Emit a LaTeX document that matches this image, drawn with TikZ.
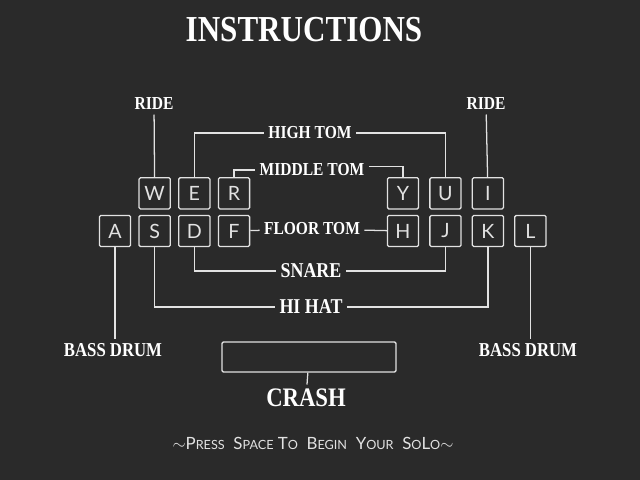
\documentclass[tikz,border=0pt]{standalone}
\usepackage{fontspec}
\setmainfont{Lato}
\newfontfamily\tuscan{Liberation Serif}[FakeStretch=0.85]
\usetikzlibrary{positioning}
\definecolor{board}{HTML}{2A2A2A}
\definecolor{chalk}{HTML}{E2E2E2}
\tikzset{
  key/.style={draw=chalk, line width=0.9pt, rounded corners=1pt, minimum size=0.78cm, inner sep=0pt, text=chalk, font=\fontsize{14}{14}\selectfont},
  lbl/.style={text=white, font=\tuscan\bfseries\fontsize{13}{13}\selectfont, inner sep=3pt},
  wire/.style={draw=chalk, line width=0.9pt},
}
\begin{document}
\begin{tikzpicture}[x=0.025cm, y=-0.025cm, node distance=0.13cm and 0.18cm]
\fill[board] (0,0) rectangle (640,480);
\useasboundingbox (0,0) rectangle (640,480);
% title
\node (title) [lbl, font=\tuscan\bfseries\fontsize{26}{26}\selectfont] at (304,30) {INSTRUCTIONS};
% left hand keys
\node (keyA) [key] at (115,231) {A};
\node (keyS) [key, right=of keyA] {S};
\node (keyD) [key, right=of keyS] {D};
\node (keyF) [key, right=of keyD] {F};
\node (keyW) [key, above=of keyS] {W};
\node (keyE) [key, above=of keyD] {E};
\node (keyR) [key, above=of keyF] {R};
% right hand keys
\node (keyH) [key] at (403,231) {H};
\node (keyJ) [key, right=0.25cm of keyH] {J};
\node (keyK) [key, right=0.25cm of keyJ] {K};
\node (keyL) [key, right=0.25cm of keyK] {L};
\node (keyY) [key, above=of keyH] {Y};
\node (keyU) [key, above=of keyJ] {U};
\node (keyI) [key, above=of keyK] {I};
% drum names
\node (rideL) [lbl] at (154,104) {RIDE};
\node (rideR) [lbl] at (486,104) {RIDE};
\node (hightom) [lbl] at (310,133) {HIGH TOM};
\node (midtom) [lbl] at (312,170) {MIDDLE TOM};
\node (floortom) [lbl] at (312,229) {FLOOR TOM};
\node (snare) [lbl, font=\tuscan\bfseries\fontsize{15}{15}\selectfont] at (311,271) {SNARE};
\node (hihat) [lbl, font=\tuscan\bfseries\fontsize{15}{15}\selectfont] at (311,307) {HI HAT};
\node (bassL) [lbl, font=\tuscan\bfseries\fontsize{14}{14}\selectfont] at (113,350) {BASS DRUM};
\node (bassR) [lbl, font=\tuscan\bfseries\fontsize{14}{14}\selectfont] at (528,350) {BASS DRUM};
\node (crashbox) [draw=chalk, line width=0.9pt, rounded corners=1pt, minimum width=4.35cm, minimum height=0.75cm] at (309,357) {};
\node (crash) [lbl, font=\tuscan\bfseries\fontsize{19}{19}\selectfont] at (306,398) {CRASH};
\node (hint) [text=chalk, font=\fontsize{12}{12}\selectfont] at (313,443)
  {$\sim$P{\small RESS} \ S{\small PACE} T{\small O} \ B{\small EGIN} \ Y{\small OUR} \ S{\small O}L{\small O}$\sim$};
% wires
\draw[wire] (rideL) -- (keyW);
\draw[wire] (hightom.west) -| (keyE.north);
\draw[wire] (midtom.west) -| (keyR.north);
\draw[wire] (keyF) -- (floortom);
\draw[wire] (floortom) -- (keyH);
\draw[wire] (hightom.east) -| (keyU.north);
\draw[wire] ([yshift=-5pt]midtom.north east) -| (keyY.north);
\draw[wire] (rideR) -- (keyI);
\draw[wire] (keyD.south) |- (snare.west);
\draw[wire] (snare.east) -| (keyJ.south);
\draw[wire] (keyS.south) |- (hihat.west);
\draw[wire] (hihat.east) -| (keyK.south);
\draw[wire] (keyA.south) -- (keyA.south |- bassL.north);
\draw[wire] (keyL.south) -- (keyL.south |- bassR.north);
\draw[wire] (crashbox) -- (crash);
\end{tikzpicture}
\end{document}
